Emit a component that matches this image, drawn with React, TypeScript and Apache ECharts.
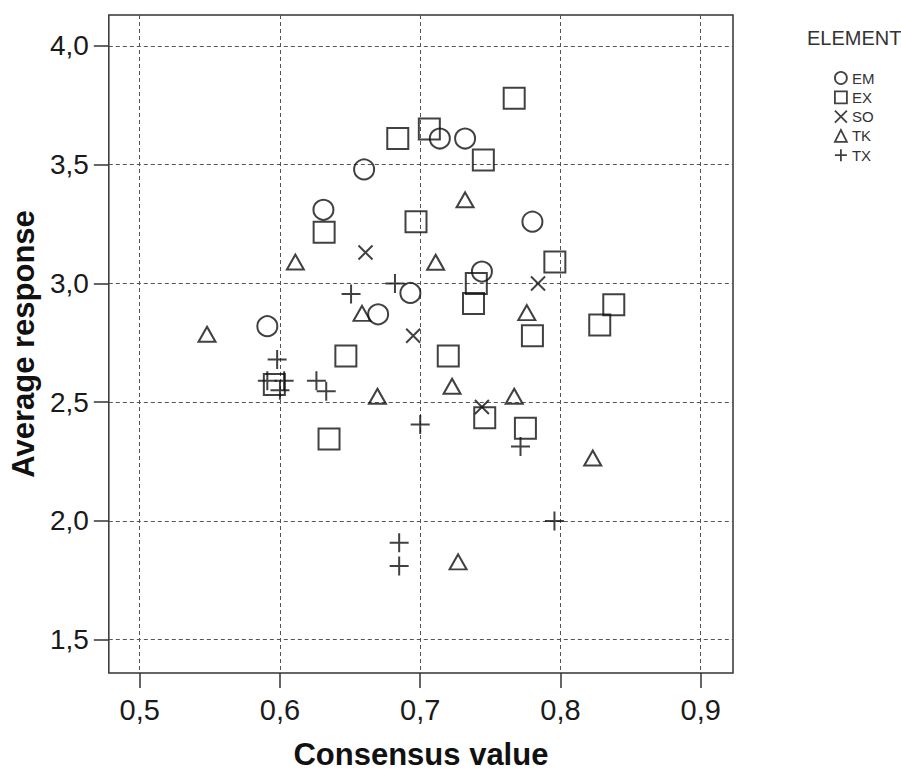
import React, { useEffect, useRef } from "react";
import * as echarts from "echarts";

// Consensus value (x) , Average response (y)
const emPoints: [number, number][] = [
  [0.591, 2.82], [0.631, 3.31], [0.66, 3.48], [0.67, 2.87], [0.693, 2.96],
  [0.714, 3.61], [0.732, 3.61], [0.744, 3.05], [0.78, 3.26],
];
const exPoints: [number, number][] = [
  [0.767, 3.78], [0.7065, 3.65], [0.684, 3.61], [0.745, 3.52], [0.697, 3.26],
  [0.796, 3.09], [0.74, 3.0], [0.738, 2.915], [0.838, 2.91], [0.828, 2.825],
  [0.78, 2.78], [0.6315, 3.215], [0.647, 2.695], [0.635, 2.345], [0.596, 2.575],
  [0.72, 2.695], [0.746, 2.435], [0.775, 2.39],
];
const soPoints: [number, number][] = [
  [0.661, 3.13], [0.784, 3.0], [0.695, 2.78], [0.744, 2.48],
];
const tkPoints: [number, number][] = [
  [0.611, 3.09], [0.548, 2.786], [0.6585, 2.874], [0.732, 3.352], [0.711, 3.089],
  [0.776, 2.877], [0.6695, 2.525], [0.7227, 2.567], [0.767, 2.525], [0.823, 2.265],
  [0.727, 1.828],
];
const txPoints: [number, number][] = [
  [0.6507, 2.955], [0.682, 3.0], [0.598, 2.68], [0.591, 2.59], [0.603, 2.59],
  [0.6, 2.55], [0.626, 2.59], [0.633, 2.546], [0.7, 2.406], [0.685, 1.908],
  [0.685, 1.81], [0.7715, 2.314], [0.7957, 2.0],
];

const xTicks = [0.5, 0.6, 0.7, 0.8, 0.9];
const yTicks = [1.5, 2.0, 2.5, 3.0, 3.5, 4.0];
const legendTitle = "ELEMENT";
const xTitle = "Consensus value";
const yTitle = "Average response";

const FONT = "'Liberation Sans', Arial, Helvetica, sans-serif";
const INK = "#1a1a1a";

const fmt = (v: number) => v.toFixed(1).replace(".", ",");

export default function App() {
  const ref = useRef<HTMLDivElement>(null);
  useEffect(() => {
    document.body.style.margin = "0";
    if (!ref.current) return;
    const chart = echarts.init(ref.current, undefined, { renderer: "svg" });
    const markStyle = {
      color: "rgba(0,0,0,0)",
      borderColor: "#111",
      borderWidth: 2,
    };
    const mk = (name: string, data: [number, number][], symbol: string, size: any) => ({
      name,
      type: "scatter",
      data,
      symbol,
      symbolSize: size,
      itemStyle: markStyle,
      emphasis: { disabled: true },
    });
    chart.setOption({
      animation: false,
      backgroundColor: "#fff",
      title: {
        text: legendTitle,
        left: 802,
        top: 23,
        textStyle: { fontFamily: FONT, fontSize: 20, fontWeight: "normal", color: "#333" },
      },
      legend: {
        orient: "vertical",
        left: 829,
        top: 65,
        itemWidth: 12,
        itemHeight: 12,
        itemGap: 3.3,
        selectedMode: false,
        itemStyle: { borderWidth: 1.8 },
        textStyle: { fontFamily: FONT, fontSize: 15, color: "#333", lineHeight: 16 },
        data: ["EM", "EX", "SO", "TK", "TX"],
      },
      grid: {
        left: 103,
        right: 168,
        top: 15,
        bottom: 105,
        show: true,
        borderColor: "#333",
        borderWidth: 1.5,
        backgroundColor: "rgba(0,0,0,0)",
      },
      xAxis: {
        type: "value",
        min: 0.478,
        max: 0.923,
        name: xTitle,
        nameLocation: "middle",
        nameGap: 66,
        nameTextStyle: { fontFamily: FONT, fontSize: 31, fontWeight: "bold", color: "#111" },
        axisLine: { show: false },
        axisTick: {
          show: true,
          inside: false,
          length: 15,
          customValues: xTicks,
          lineStyle: { color: "#333", width: 1.5 },
        },
        axisLabel: {
          customValues: xTicks,
          margin: 22,
          fontFamily: FONT,
          fontSize: 29,
          color: INK,
          formatter: (v: number) => fmt(v),
        },
        splitLine: {
          show: true,
          lineStyle: { color: "#555", width: 1, type: [4, 3] },
        },
      },
      yAxis: {
        type: "value",
        min: 1.36,
        max: 4.13,
        name: yTitle,
        nameLocation: "middle",
        nameGap: 64,
        nameTextStyle: { fontFamily: FONT, fontSize: 31, fontWeight: "bold", color: "#111" },
        axisLine: { show: false },
        axisTick: {
          show: true,
          inside: false,
          length: 15,
          customValues: yTicks,
          lineStyle: { color: "#333", width: 1.5 },
        },
        axisLabel: {
          customValues: yTicks,
          margin: 20,
          fontFamily: FONT,
          fontSize: 28,
          color: INK,
          formatter: (v: number) => fmt(v),
        },
        splitLine: {
          show: true,
          lineStyle: { color: "#555", width: 1, type: [4, 3] },
        },
      },
      series: [
        mk("EM", emPoints, "circle", 20),
        mk("EX", exPoints, "rect", 21),
        mk("SO", soPoints, "path://M0,0L10,10M10,0L0,10", 14),
        mk("TK", tkPoints, "triangle", [17, 15]),
        mk("TX", txPoints, "path://M5,0L5,10M0,5L10,5", 19),
      ],
    });
    return () => chart.dispose();
  }, []);
  return <div ref={ref} style={{ width: 901, height: 778 }} />;
}
